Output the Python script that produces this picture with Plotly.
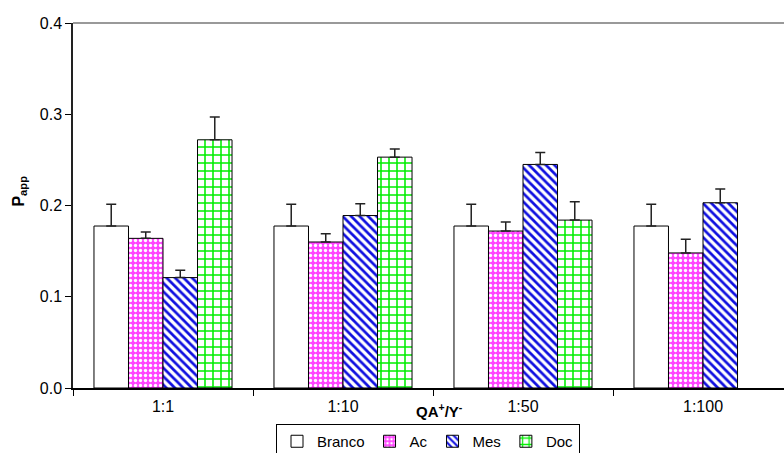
import plotly.graph_objects as go

categories = ["1:1", "1:10", "1:50", "1:100"]
series_names = ["Branco", "Ac", "Mes", "Doc"]
branco = [0.1775, 0.1775, 0.1775, 0.1775]
branco_err = [0.024, 0.024, 0.024, 0.024]
ac = [0.164, 0.160, 0.172, 0.148]
ac_err = [0.007, 0.009, 0.010, 0.015]
mes = [0.121, 0.189, 0.245, 0.203]
mes_err = [0.008, 0.013, 0.013, 0.015]
doc = [0.272, 0.253, 0.184, None]
doc_err = [0.025, 0.009, 0.020, None]
y_ticks = [0.0, 0.1, 0.2, 0.3, 0.4]

FONT = "Liberation Sans, Arial, sans-serif"

styles = [
    dict(color="white", pattern=None),
    dict(color="#ff44ff", pattern=dict(shape=".", fgcolor="white", bgcolor="#ff44ff", size=5, solidity=0.35, fillmode="replace")),
    dict(color="#1010e0", pattern=dict(shape="\\", fgcolor="#1010e0", bgcolor="white", size=6, solidity=0.45, fillmode="replace")),
    dict(color="#00ee00", pattern=dict(shape="+", fgcolor="#00ee00", bgcolor="white", size=8, solidity=0.35, fillmode="replace")),
]

values = [branco, ac, mes, doc]
errors = [branco_err, ac_err, mes_err, doc_err]

fig = go.Figure()
for name, vals, errs, st in zip(series_names, values, errors, styles):
    marker = dict(color=st["color"], line=dict(color="black", width=1))
    if st["pattern"]:
        marker["pattern"] = st["pattern"]
    fig.add_trace(go.Bar(
        name=name, x=categories, y=vals,
        marker=marker,
        error_y=dict(type="data", array=errs, arrayminus=[0 if e is not None else None for e in errs],
                     symmetric=False, color="#222222", thickness=1.5, width=5),
    ))

fig.update_layout(
    width=784, height=453,
    margin=dict(l=73, r=0, t=23, b=65, autoexpand=False),
    paper_bgcolor="white", plot_bgcolor="white",
    barmode="group", bargap=0.233, bargroupgap=0,
    font=dict(family=FONT, size=16, color="black"),
    showlegend=True,
    legend=dict(orientation="h", x=(428 - 73) / 711, xanchor="center", y=-(424 - 388) / 365, yanchor="top",
                bordercolor="black", borderwidth=1, font=dict(size=15, family=FONT),
                itemwidth=30, tracegroupgap=0, traceorder="normal"),
    xaxis=dict(type="category", range=[-0.5, 3.45], showline=True, linecolor="black", linewidth=1.5,
               ticks="outside", tickson="boundaries", ticklen=6, tickcolor="black",
               ticklabelstandoff=3,
               showgrid=False, tickfont=dict(size=16, family=FONT)),
    yaxis=dict(range=[0, 0.4], tickvals=y_ticks, ticktext=[f"{v:.1f}" for v in y_ticks],
               showline=True, linecolor="#222222", linewidth=1.5, ticks="outside", ticklen=6,
               tickcolor="black", showgrid=False, zeroline=False, tickfont=dict(size=16, family=FONT)),
    shapes=[dict(type="line", xref="paper", yref="paper", x0=0, x1=1, y0=1, y1=1,
                 line=dict(color="#777777", width=1.5))],
    annotations=[
        dict(text="<b>QA<sup>+</sup>/Y<sup>-</sup></b>", xref="paper", yref="paper",
             x=(439 - 73) / 711, y=-(410 - 388) / 365, xanchor="center", yanchor="middle",
             showarrow=False, font=dict(size=15, family=FONT)),
        dict(text="<b>P<sub>app</sub></b>", xref="paper", yref="paper",
             x=-0.075, y=0.54, xanchor="center", yanchor="middle", textangle=-90,
             showarrow=False, font=dict(size=16, family=FONT)),
    ],
)

fig.write_html("out.html")
